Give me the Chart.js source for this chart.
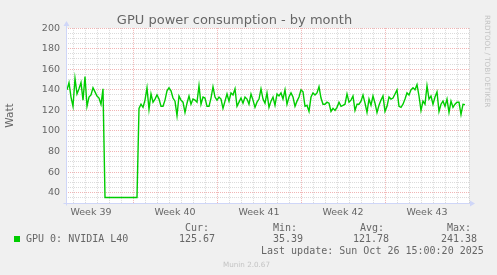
<!DOCTYPE html>
<html>
<head>
<meta charset="utf-8">
<script src="https://cdn.jsdelivr.net/npm/chart.js@4.4.0/dist/chart.umd.min.js"></script>
<style>
  html, body { margin: 0; padding: 0; background: #F0F0F0; }
  #wrap { position: relative; width: 497px; height: 275px; overflow: hidden; }
  canvas { position: absolute; left: 0; top: 0; }
  .t { position: absolute; white-space: pre; font-family: "DejaVu Sans Mono", monospace; font-size: 10px; line-height: 12px; height: 12px; color: #666; }
  .sq { position: absolute; left: 14px; top: 236px; width: 6px; height: 6px; background: #00CC00; }
  .wm { position: absolute; white-space: pre; font-family: "DejaVu Sans", sans-serif; font-size: 7.2px; color: #C4C4C4; }
</style>
</head>
<body>
<div id="wrap">
  <canvas id="gpuChart" width="497" height="275"></canvas>
  <div class="wm" style="left:483px; top:15px; writing-mode:vertical-rl;">RRDTOOL / TOBI OETIKER</div>
  <div class="t" style="left:185px; top:222px;">Cur:</div>
  <div class="t" style="left:273px; top:222px;">Min:</div>
  <div class="t" style="left:360px; top:222px;">Avg:</div>
  <div class="t" style="left:447px; top:222px;">Max:</div>
  <div class="sq"></div>
  <div class="t" style="left:26px; top:233px;">GPU 0: NVIDIA L40</div>
  <div class="t" id="vCur" style="left:179px; top:233px;"></div>
  <div class="t" id="vMin" style="left:273px; top:233px;"></div>
  <div class="t" id="vAvg" style="left:353px; top:233px;"></div>
  <div class="t" id="vMax" style="left:441px; top:233px;"></div>
  <div class="t" style="left:261px; top:245px;">Last update: Sun Oct 26 15:00:20 2025</div>
  <div class="wm" style="left:223px; top:260px;">Munin 2.0.67</div>
</div>
<script>
// GPU 0 power, one sample every 4 hours (Watt)
const watts = [
  // week 39 (before the outage)
  140, 147, 133, 124, 151, 136, 141, 147, 130, 153,
  124, 133, 135, 142, 138, 134, 132, 126, 141,
  // outage / idle
  35.39, 35.39, 35.39, 35.39, 35.39, 35.39, 35.39, 35.39, 35.39, 35.39,
  35.39, 35.39, 35.39, 35.39, 35.39, 35.39, 35.39,
  // back up
  122, 126, 123, 130, 142, 121, 136, 128, 131, 135,
  131, 124, 124, 130, 139, 142, 139, 132, 129, 115,
  134, 130, 128, 118, 127, 134, 126, 131, 130, 128,
  144, 126, 133, 132, 124, 124, 132, 143, 133, 130,
  133, 131, 122, 129, 136, 129, 137, 135, 141, 124,
  128, 132, 127, 133, 131, 126, 136, 130, 123, 128,
  131, 141, 131, 127, 137, 123, 129, 133, 125, 136,
  134, 137, 131, 140, 126, 133, 137, 133, 124, 129,
  133, 140, 138, 124, 125, 119, 133, 137, 135, 137,
  143, 132, 126, 126, 128, 127, 119, 122, 120, 123,
  128, 124, 125, 126, 136, 128, 130, 134, 120, 126,
  126, 129, 135, 127, 118, 131, 125, 134, 127, 118,
  125, 130, 134, 119, 124, 133, 131, 132, 136, 140,
  124, 123, 126, 131, 137, 135, 140, 142, 140, 145,
  134, 120, 129, 126, 144, 131, 134, 126, 133, 138,
  119, 126, 129, 124, 131, 118, 129, 123, 126, 128,
  128, 116, 126, 125.67
];

const weekLabels = ['Week 39', 'Week 40', 'Week 41', 'Week 42', 'Week 43'];
const weekLabelHours = [50, 218, 386, 554, 722];   // middle of each week
const weekStartHours = [134, 302, 470, 638];
const stats = { cur: '125.67', min: '35.39', avg: '121.78', max: '241.38' };

const sampleStep = 4;   // hours
const firstSample = 2;
const spanHours = 806;

document.getElementById('vCur').textContent = stats.cur;
document.getElementById('vMin').textContent = stats.min;
document.getElementById('vAvg').textContent = stats.avg;
document.getElementById('vMax').textContent = stats.max;

const points = watts.map((w, i) => ({ x: firstSample + i * sampleStep, y: w }));

// day lines every 24h, minor y lines every 5 W
const dayHours = [];
for (let h = 14; h <= spanHours; h += 24) dayHours.push(h);
const yTicks = [];
for (let v = 30; v <= 200; v += 5) yTicks.push(v);

const MAJOR = 'rgba(222,79,79,0.42)';
const MINOR = 'rgba(143,143,143,0.32)';
const FONT = 'DejaVu Sans';

// rrdtool-ish canvas, dotted grid and axis arrows
const muninFrame = {
  id: 'muninFrame',
  beforeDraw(chart) {
    const { ctx, chartArea: a } = chart;
    ctx.save();
    ctx.fillStyle = '#F0F0F0';
    ctx.fillRect(0, 0, chart.width, chart.height);
    ctx.fillStyle = '#FFFFFF';
    ctx.fillRect(a.left, a.top, a.right - a.left, a.bottom - a.top);
    ctx.restore();
  },
  beforeDatasetsDraw(chart) {
    const { ctx, chartArea: a, scales } = chart;
    ctx.save();
    ctx.lineWidth = 1;
    ctx.setLineDash([1, 1]);
    const line = (x1, y1, x2, y2, c) => {
      ctx.strokeStyle = c;
      ctx.beginPath(); ctx.moveTo(x1, y1); ctx.lineTo(x2, y2); ctx.stroke();
    };
    yTicks.forEach(v => {
      const y = Math.floor(scales.y.getPixelForValue(v)) + 0.5;
      line(a.left, y, a.right, y, v % 20 === 0 ? MAJOR : MINOR);
    });
    dayHours.forEach(h => {
      const x = Math.floor(scales.x.getPixelForValue(h)) + 0.5;
      line(x, a.top, x, a.bottom, weekStartHours.includes(h) ? MAJOR : MINOR);
    });
    ctx.restore();
  },
  afterDraw(chart) {
    const { ctx, chartArea: a } = chart;
    const x0 = Math.round(a.left) + 0.5, y0 = Math.round(a.bottom) + 0.5;
    ctx.save();
    ctx.strokeStyle = '#CFD6F8';
    ctx.fillStyle = '#CFD6F8';
    ctx.lineWidth = 1;
    ctx.beginPath();
    ctx.moveTo(x0, y0 + 2); ctx.lineTo(x0, a.top - 3);
    ctx.moveTo(x0 - 3, y0); ctx.lineTo(a.right + 2, y0);
    ctx.stroke();
    ctx.beginPath();
    ctx.moveTo(x0, a.top - 7); ctx.lineTo(x0 - 3, a.top - 2); ctx.lineTo(x0 + 3, a.top - 2);
    ctx.fill();
    ctx.beginPath();
    ctx.moveTo(a.right + 6, y0); ctx.lineTo(a.right + 1, y0 - 3); ctx.lineTo(a.right + 1, y0 + 3);
    ctx.fill();
    ctx.restore();
  }
};

new Chart(document.getElementById('gpuChart'), {
  type: 'line',
  data: {
    datasets: [{
      label: 'GPU 0: NVIDIA L40',
      data: points,
      borderColor: '#00CC00',
      borderWidth: 1.4,
      pointRadius: 0,
      tension: 0,
      fill: false
    }]
  },
  options: {
    responsive: false,
    animation: false,
    layout: { padding: { left: 0, right: 28, top: 0, bottom: 0 } },
    plugins: {
      legend: { display: false },
      tooltip: { enabled: false },
      title: {
        display: true,
        text: 'GPU power consumption - by month',
        color: '#666',
        font: { family: FONT, size: 13, weight: 'normal' },
        padding: { top: 12.5, bottom: 0 }
      }
    },
    scales: {
      x: {
        type: 'linear',
        min: 0,
        max: spanHours,
        afterBuildTicks: s => { s.ticks = weekLabelHours.map(v => ({ value: v })); },
        afterFit: s => { s.height = 72; },
        grid: { display: false, drawTicks: false },
        border: { display: false },
        ticks: {
          autoSkip: false,
          maxRotation: 0,
          padding: 4,
          color: '#666',
          font: { family: FONT, size: 9.5 },
          callback: v => {
            const i = weekLabelHours.indexOf(v);
            return i >= 0 ? weekLabels[i] : '';
          }
        }
      },
      y: {
        min: 30,
        max: 200,
        afterBuildTicks: s => { s.ticks = yTicks.map(v => ({ value: v })); },
        afterFit: s => { s.width = 66; },
        grid: { display: false, drawTicks: false },
        border: { display: false },
        ticks: {
          autoSkip: false,
          padding: 6,
          color: '#666',
          font: { family: FONT, size: 9.5 },
          callback: v => (v % 20 === 0 ? v : '')
        },
        title: {
          display: true,
          text: 'Watt',
          color: '#666',
          font: { family: FONT, size: 10.5 },
          padding: { top: 4, bottom: 0 }
        }
      }
    }
  },
  plugins: [muninFrame]
});
</script>
</body>
</html>
